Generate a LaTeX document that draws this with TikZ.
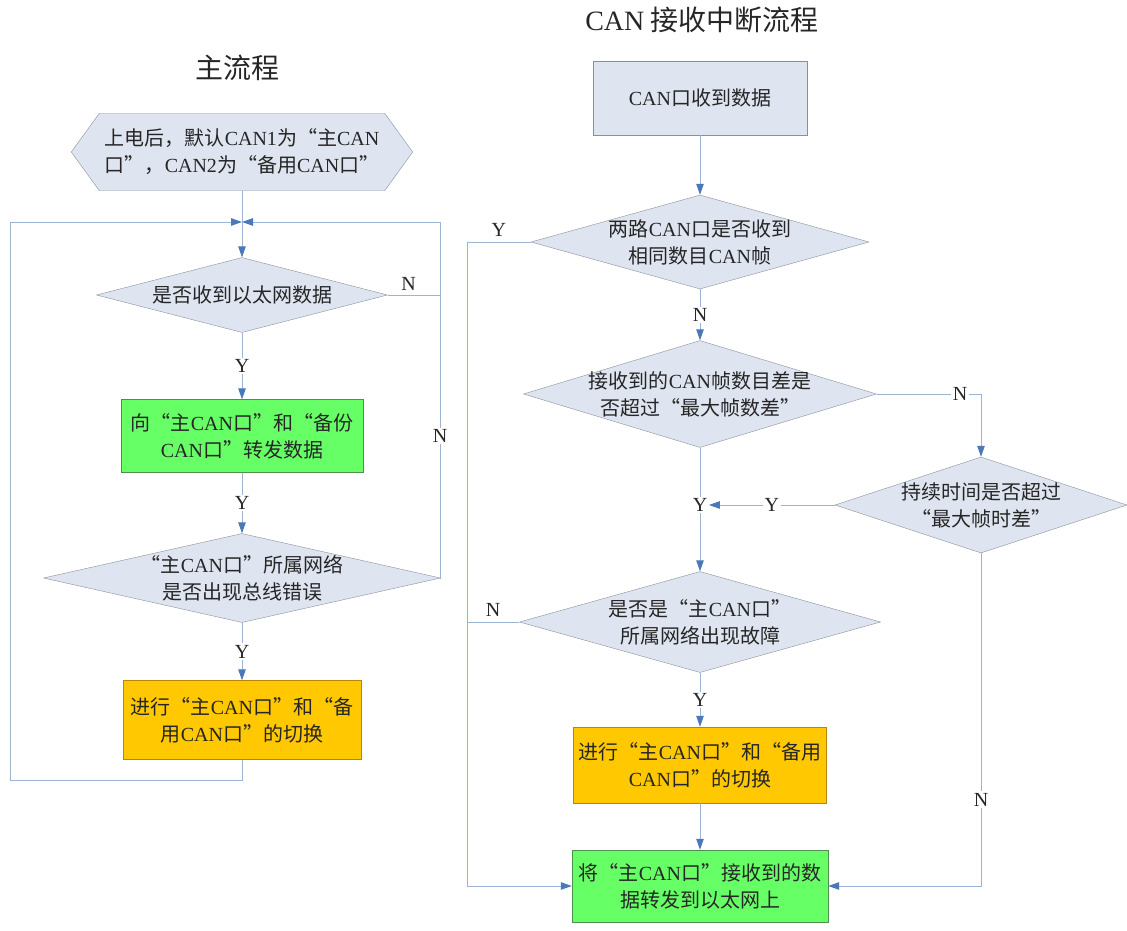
\documentclass[tikz,border=0pt]{standalone}
\usepackage{fontspec}
\setmainfont{Noto Sans CJK SC}
\newfontfamily\lat{Liberation Serif}
\newcommand\en[1]{{\lat #1}}
\usepackage{tikz}
\usetikzlibrary{arrows.meta,positioning,shapes.geometric,backgrounds}
\definecolor{linec}{HTML}{9DB3D2}
\definecolor{tip}{HTML}{4A78B8}
\definecolor{edge}{HTML}{8A909A}
\definecolor{pale}{HTML}{DFE5F0}
\definecolor{okgreen}{HTML}{66FF66}
\definecolor{okedge}{HTML}{4F8F4F}
\definecolor{swap}{HTML}{FFC800}
\definecolor{swapedge}{HTML}{B8860B}
\definecolor{ink}{HTML}{262626}
\tikzset{
  txt/.style={font=\fontsize{20}{27}\selectfont,text=ink,align=center},
  dec/.style n args={3}{txt,diamond,draw=edge,fill=pale,inner sep=-8pt,minimum width=#1,minimum height=#2,aspect=#3},
  proc/.style={txt,rectangle,draw=edge,fill=pale,inner sep=0pt},
  wire/.style={draw=linec,line width=1pt},
  arr/.style={wire,-{Triangle[length=11pt,width=7.5pt,color=tip]}},
  lab/.style={font=\lat\fontsize{20}{20}\selectfont,text=ink,fill=white,inner sep=1.5pt}
}
\begin{document}
\begin{tikzpicture}[x=1pt,y=-1pt]
  \useasboundingbox (0,0) rectangle (1127,931);
  \node[font=\fontsize{28}{30}\selectfont,text=ink] (title1) at (237,68) {主流程};
  \node[font=\fontsize{28}{30}\selectfont,text=ink] (title2) at (702,20) {\en{CAN} 接收中断流程};
  \node[txt,minimum width=341,minimum height=77,inner sep=0pt] (start) at (242,152) {上电后，默认\en{CAN1}为“主\en{CAN}\\口”，\en{CAN2}为“备用\en{CAN}口”};
  \begin{scope}[on background layer]
    \filldraw[draw=edge,fill=pale] (start.west) -- ([xshift=28]start.north west) -- ([xshift=-28]start.north east) -- (start.east) -- ([xshift=-28]start.south east) -- ([xshift=28]start.south west) -- cycle;
  \end{scope}
  \node[dec={291}{75}{3.88}] (recv) at (242,295) {是否收到以太网数据};
  \node[proc,fill=okgreen,draw=okedge,minimum width=242,minimum height=73] (fwd) at (242,436) {向“主\en{CAN}口”和“备份\\\en{CAN}口”转发数据};
  \node[dec={397}{89}{4.46}] (buserr) at (242,578) {“主\en{CAN}口”所属网络\\是否出现总线错误};
  \node[proc,fill=swap,draw=swapedge,minimum width=238,minimum height=79] (swA) at (242,720) {进行“主\en{CAN}口”和“备\\用\en{CAN}口”的切换};
  \coordinate (junc) at (242,222);
  \coordinate (lb) at (10,780);
  \coordinate (rb) at (440,222);
  \draw[wire] (start) -- (junc);
  \draw[arr] (junc) -- (recv);
  \draw[arr] (recv) -- node[lab]{Y} (fwd);
  \draw[arr] (fwd) -- node[lab]{Y} (buserr);
  \draw[arr] (buserr) -- node[lab]{Y} (swA);
  \draw[arr] (swA) |- (lb) |- (junc);
  \draw[wire] (recv.east) -- node[lab,above=3pt,pos=.4]{N} (recv.east -| rb);
  \draw[arr] (buserr.east) -- (buserr.east -| rb) -- node[lab,pos=.4]{N} (rb) -- (junc);

  \node[proc,minimum width=214,minimum height=74] (canrx) at (700,98) {\en{CAN}口收到数据};
  \node[dec={338}{94}{3.6}] (same) at (700,242) {两路\en{CAN}口是否收到\\相同数目\en{CAN}帧};
  \node[dec={353}{107}{3.3}] (diff) at (700,394) {接收到的\en{CAN}帧数目差是\\否超过“最大帧数差”};
  \node[dec={292}{96}{3.04}] (dur) at (981,505) {持续时间是否超过\\“最大帧时差”};
  \node[lab] (yj) at (700,505) {Y};
  \node[dec={361}{101}{3.57}] (fault) at (700,622) {是否是“主\en{CAN}口”\\所属网络出现故障};
  \node[proc,fill=swap,draw=swapedge,minimum width=253,minimum height=76] (swB) at (700,765) {进行“主\en{CAN}口”和“备用\\\en{CAN}口”的切换};
  \node[proc,fill=okgreen,draw=okedge,minimum width=256,minimum height=72] (eth) at (700,886) {将“主\en{CAN}口”接收到的数\\据转发到以太网上};
  \coordinate (lx) at (467,242);
  \draw[arr] (canrx) -- (same);
  \draw[arr] (same) -- node[lab]{N} (diff);
  \draw[arr] (same.west) -- node[lab,above=4pt]{Y} (lx) |- (eth);
  \draw[arr] (diff.east) -- node[lab,pos=.8]{N} (diff.east -| dur.north) -- (dur);
  \draw[wire] (diff) -- (yj);
  \draw[arr] (yj) -- (fault);
  \draw[arr] (dur) -- node[lab]{Y} (yj);
  \draw[wire] (fault.west) -- node[lab,above=4pt]{N} (fault.west -| lx);
  \draw[arr] (fault) -- node[lab]{Y} (swB);
  \draw[arr] (swB) -- (eth);
  \draw[arr] (dur) |- node[lab,pos=.37]{N} (eth);
\end{tikzpicture}
\end{document}
